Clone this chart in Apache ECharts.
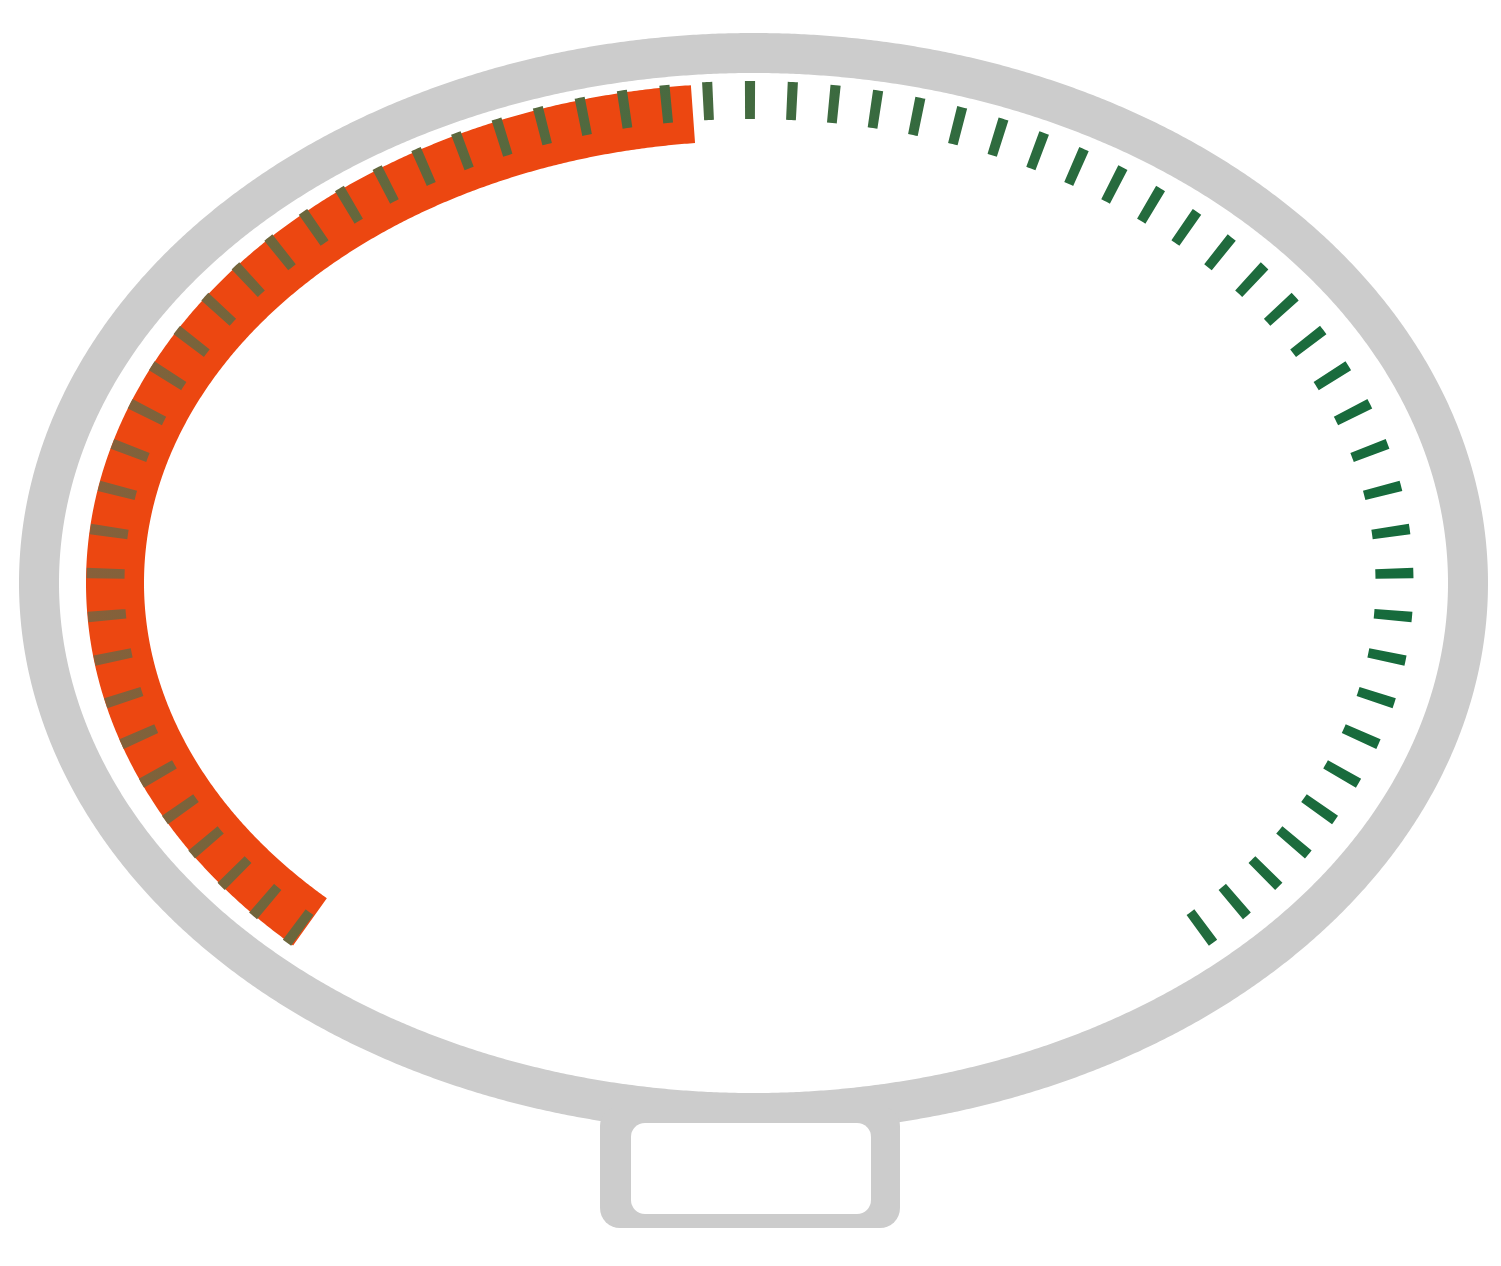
<!DOCTYPE html>
<html>
<head>
<meta charset="utf-8">
<title>gauge</title>
<script src="https://cdn.jsdelivr.net/npm/echarts@6/dist/echarts.min.js"></script>
<style>
  html, body { margin: 0; padding: 0; background: #fff; }
  #main { width: 1501px; height: 1266px; }
</style>
</head>
<body>
<div id="main"></div>
<script>
// gauge data
var gaugeValues = [48];
var gaugeRange = [0, 100];
var tickCount = 63;

var START_ANGLE = 226;
var END_ANGLE = -46;

var chart = echarts.init(document.getElementById('main'));

// points along an ellipse arc (angles in degrees, counted anticlockwise)
function arcPoints(cx, cy, rx, ry, from, to) {
  var pts = [];
  var n = Math.max(2, Math.ceil(Math.abs(to - from) * 4));
  for (var i = 0; i <= n; i++) {
    var a = (from + (to - from) * i / n) * Math.PI / 180;
    pts.push([cx + rx * Math.cos(a), cy - ry * Math.sin(a)]);
  }
  return pts;
}

function pathLength(pts) {
  var len = 0;
  for (var i = 1; i < pts.length; i++) {
    var dx = pts[i][0] - pts[i - 1][0];
    var dy = pts[i][1] - pts[i - 1][1];
    len += Math.sqrt(dx * dx + dy * dy);
  }
  return len;
}

function renderGauge(params, api) {
  var cx = 753.5, cy = 583;
  var angle = echarts.number.linearMap(api.value(0), gaugeRange, [START_ANGLE, END_ANGLE], true);

  var tickCx = 750, tickRx = 644.5, tickRy = 483;
  var tickPts = arcPoints(tickCx, cy, tickRx, tickRy, START_ANGLE, END_ANGLE);
  var dash = 10;
  var period = (pathLength(tickPts) - dash) / (tickCount - 1);

  var tickColor = new echarts.graphic.LinearGradient(
    tickCx - tickRx - 19, 0, tickCx + tickRx + 19, 0, [
      { offset: 0, color: '#88603a' },
      { offset: 0.16, color: '#6b673c' },
      { offset: 0.47, color: '#466a40' },
      { offset: 0.72, color: '#2a6b3e' },
      { offset: 1, color: '#156b3c' }
    ], true);

  return {
    type: 'group',
    children: [
      {
        type: 'polygon',
        shape: { points: arcPoints(cx, cy, 714.5, 530, 0, 360) },
        style: { fill: null, stroke: '#cccccc', lineWidth: 40, lineJoin: 'round' }
      },
      {
        type: 'rect',
        shape: { x: 600, y: 1106, width: 300, height: 122, r: 20 },
        style: { fill: '#cccccc' }
      },
      {
        type: 'rect',
        shape: { x: 631, y: 1123, width: 240, height: 91, r: 14 },
        style: { fill: '#ffffff' }
      },
      {
        type: 'polyline',
        shape: { points: arcPoints(cx, cy, 638.5, 471, START_ANGLE, angle) },
        style: { fill: null, stroke: '#ec4711', lineWidth: 58, lineCap: 'butt', lineJoin: 'round' }
      },
      {
        type: 'polyline',
        shape: { points: tickPts },
        style: {
          fill: null, stroke: tickColor, lineWidth: 38, lineCap: 'butt',
          lineDash: [dash, period - dash]
        }
      }
    ]
  };
}

chart.setOption({
  backgroundColor: '#ffffff',
  animation: false,
  series: [{
    type: 'custom',
    coordinateSystem: 'none',
    silent: true,
    renderItem: renderGauge,
    data: gaugeValues
  }]
});
</script>
</body>
</html>
